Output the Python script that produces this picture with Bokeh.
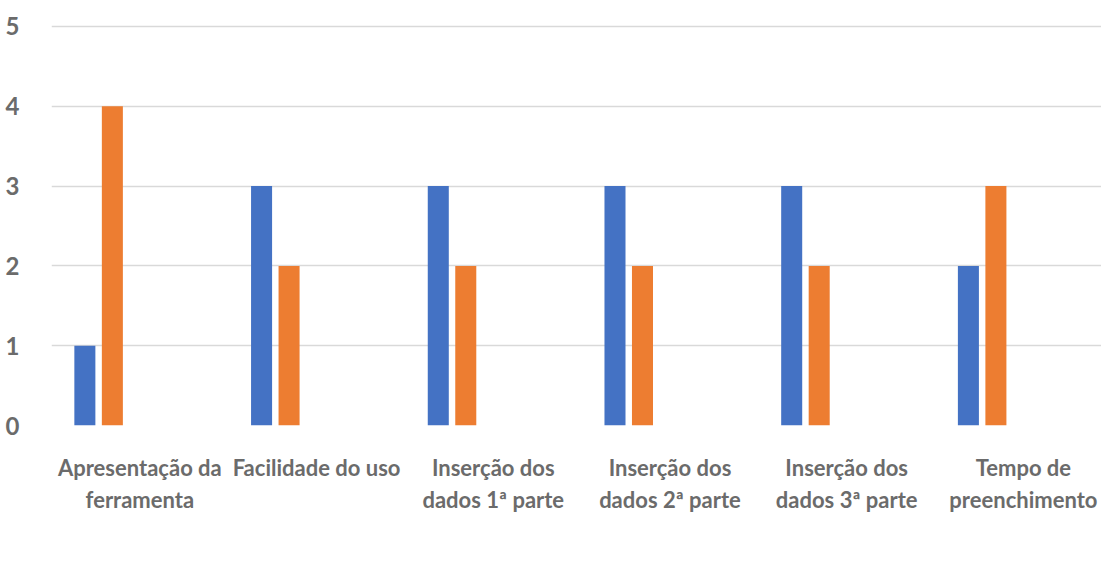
from bokeh.plotting import figure
from bokeh.models import ColumnDataSource, Range1d, FixedTicker, Legend, LegendItem
from bokeh.transform import dodge
from bokeh.embed import file_html
from bokeh.resources import INLINE

categories = ["Apresentação da\nferramenta", "Facilidade do uso", "Inserção dos\ndados 1ª parte",
              "Inserção dos\ndados 2ª parte", "Inserção dos\ndados 3ª parte", "Tempo de\npreenchimento"]
otimo = [1, 3, 3, 3, 3, 2]
bom = [4, 2, 2, 2, 2, 3]
regular = [0, 0, 0, 0, 0, 0]
ruim = [0, 0, 0, 0, 0, 0]
pessimo = [0, 0, 0, 0, 0, 0]
series_names = ["Ótimo", "Bom", "Regular", "Ruim", "Péssimo"]
colors = ["#4472C4", "#ED7D31", "#A5A5A5", "#FFC000", "#5B9BD5"]
y_ticks = [0, 1, 2, 3, 4, 5]

xs = list(range(len(categories)))
source = ColumnDataSource(dict(x=xs, otimo=otimo, bom=bom, regular=regular, ruim=ruim, pessimo=pessimo))
keys = ["otimo", "bom", "regular", "ruim", "pessimo"]

p = figure(frame_width=1050, frame_height=403,
           output_backend="svg", toolbar_location=None,
           x_range=Range1d(-0.5, 5.442), y_range=Range1d(0, 5.05),
           min_border_left=51, min_border_right=0, min_border_top=22, min_border_bottom=0)
p.outline_line_color = None
p.background_fill_color = "white"

pitch = 0.1556
renderers = []
for i, (k, c) in enumerate(zip(keys, colors)):
    r = p.vbar(x=dodge("x", (i - 2) * pitch), top=k, width=0.119, source=source,
               fill_color=c, line_color=None)
    renderers.append(r)

font = "Lato"
lab_color = "#6b6b6b"

p.yaxis.ticker = FixedTicker(ticks=y_ticks)
p.yaxis.axis_line_color = None
p.yaxis.major_tick_line_color = None
p.yaxis.minor_tick_line_color = None
p.yaxis.major_label_text_font = font
p.yaxis.major_label_text_font_style = "bold"
p.yaxis.major_label_text_font_size = "24px"
p.yaxis.major_label_text_color = lab_color
p.yaxis.major_label_standoff = 26

p.xaxis.ticker = FixedTicker(ticks=xs)
p.xaxis.major_label_overrides = {i: c for i, c in enumerate(categories)}
p.xaxis.axis_line_color = None
p.xaxis.major_tick_line_color = None
p.xaxis.minor_tick_line_color = None
p.xaxis.major_label_text_font = font
p.xaxis.major_label_text_font_style = "bold"
p.xaxis.major_label_text_font_size = "22px"
p.xaxis.major_label_text_color = lab_color
p.xaxis.major_label_standoff = 22
p.xaxis.major_label_text_line_height = 1.2
p.xaxis.axis_label = " "
p.xaxis.axis_label_text_font_size = "20px"
p.xaxis.axis_label_standoff = 5

p.xgrid.grid_line_color = None
p.ygrid.grid_line_color = "#d9d9d9"
p.ygrid.grid_line_width = 1.5

legend = Legend(items=[LegendItem(label=n, renderers=[r]) for n, r in zip(series_names, renderers)],
                orientation="horizontal", location="center",
                label_text_font=font, label_text_font_style="bold", label_text_font_size="21px",
                label_text_color=lab_color, glyph_width=13, glyph_height=13,
                spacing=24, label_standoff=8, border_line_color=None,
                background_fill_alpha=0, margin=0, padding=0)
p.add_layout(legend, "below")

open("out.html", "w").write(file_html(p, INLINE))
